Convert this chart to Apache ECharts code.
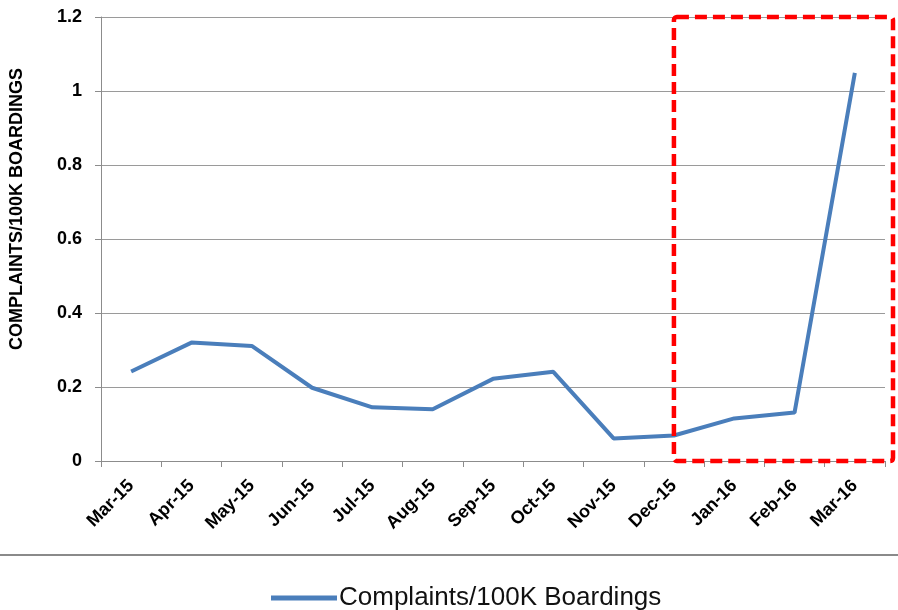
<!DOCTYPE html>
<html>
<head>
<meta charset="utf-8">
<script src="https://cdn.jsdelivr.net/npm/echarts@6/dist/echarts.min.js"></script>
<style>
  html, body { margin: 0; padding: 0; background: #fff; }
  #chart { width: 898px; height: 610px; }
</style>
</head>
<body>
<div id="chart"></div>
<script>
  const months = ["Mar-15", "Apr-15", "May-15", "Jun-15", "Jul-15", "Aug-15", "Sep-15",
    "Oct-15", "Nov-15", "Dec-15", "Jan-16", "Feb-16", "Mar-16"]
  const complaints = [0.242, 0.32, 0.311, 0.198, 0.145, 0.14, 0.222,
    0.241, 0.061, 0.069, 0.115, 0.131, 1.049]
  const yTicks = [0, 0.2, 0.4, 0.6, 0.8, 1, 1.2]
  const seriesName = "Complaints/100K Boardings"
  const highlightFrom = "Dec-15"

  const axisFont = "'Liberation Sans', Arial, sans-serif"

  const options = {
    animation: false,
    grid: {
      left: 101,
      right: 13,
      top: 17,
      bottom: 149,
      containLabel: false,
    },
    xAxis: {
      type: "category",
      data: months,
      boundaryGap: true,
      axisLine: { lineStyle: { color: "#8c8c8c", width: 1 } },
      axisTick: { show: true, length: 6, lineStyle: { color: "#8c8c8c" } },
      axisLabel: {
        rotate: 45,
        interval: 0,
        margin: 22,
        color: "#000",
        fontWeight: "bold",
        fontSize: 18,
        fontFamily: axisFont,
      },
    },
    yAxis: {
      type: "value",
      min: yTicks[0],
      max: yTicks[yTicks.length - 1],
      interval: 0.2,
      name: "COMPLAINTS/100K BOARDINGS",
      nameLocation: "middle",
      nameGap: 75,
      nameTextStyle: {
        color: "#000",
        fontWeight: "bold",
        fontSize: 18,
        fontFamily: axisFont,
        padding: [0, 0, 0, 60],
      },
      axisLine: { show: true, lineStyle: { color: "#8c8c8c", width: 1 } },
      axisTick: { show: true, length: 6, lineStyle: { color: "#8c8c8c" } },
      splitLine: { lineStyle: { color: "#9a9a9a", width: 1 } },
      axisLabel: {
        margin: 19,
        color: "#000",
        fontWeight: "bold",
        fontSize: 18,
        fontFamily: axisFont,
        formatter: (v) => String(Math.round(v * 10) / 10),
      },
    },
    legend: {
      data: [seriesName],
      left: 266,
      top: 580,
      icon: "rect",
      itemWidth: 66,
      itemHeight: 5,
      itemGap: 2,
      textStyle: {
        color: "#111",
        fontSize: 26,
        fontFamily: axisFont,
        padding: [0, 0, 0, -3],
      },
    },
    series: [
      {
        name: seriesName,
        type: "line",
        data: complaints,
        showSymbol: false,
        symbol: "none",
        lineStyle: { color: "#4a7ebb", width: 4 },
        itemStyle: { color: "#4a7ebb" },
      },
    ],
  }

  let dom = document.getElementById("chart")
  let myChart = echarts.init(dom)
  myChart.setOption(options)

  // red dashed box + separator line
  const boxLeft = myChart.convertToPixel({ xAxisIndex: 0 }, highlightFrom)
  const boxTop = myChart.convertToPixel({ yAxisIndex: 0 }, yTicks[yTicks.length - 1])
  const boxBottom = myChart.convertToPixel({ yAxisIndex: 0 }, yTicks[0])
  myChart.setOption({
    graphic: [
      {
        type: "rect",
        shape: { x: boxLeft, y: boxTop, width: 893 - boxLeft, height: boxBottom - boxTop, r: 3 },
        style: { fill: "none", stroke: "#ff0000", lineWidth: 4.5, lineDash: [12, 6] },
        z: 10,
      },
      {
        type: "line",
        shape: { x1: 0, y1: 555, x2: 898, y2: 555 },
        style: { stroke: "#8a8a8a", lineWidth: 2 },
      },
    ],
  })
  window.addEventListener("resize", () => myChart.resize(), false)
</script>
</body>
</html>
